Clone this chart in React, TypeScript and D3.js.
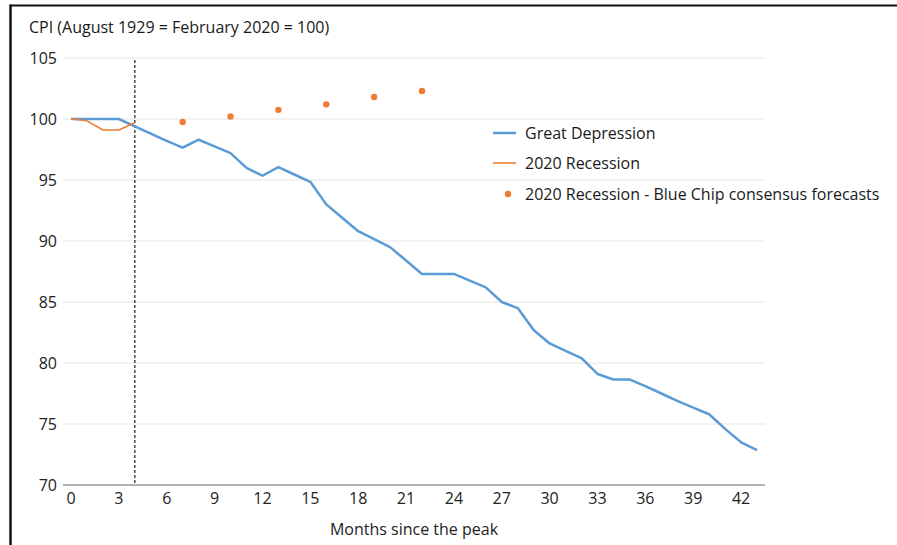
import React from "react";
import * as d3 from "d3";

const months = [0,1,2,3,4,5,6,7,8,9,10,11,12,13,14,15,16,17,18,19,20,21,22,23,24,25,26,27,28,29,30,31,32,33,34,35,36,37,38,39,40,41,42,43];
const greatDepression = [100,100,100,100,99.4,98.8,98.2,97.65,98.3,97.75,97.2,96.0,95.35,96.05,95.45,94.85,93.0,91.9,90.8,90.15,89.5,88.4,87.3,87.3,87.3,86.75,86.2,85.0,84.5,82.7,81.6,81.0,80.4,79.1,78.65,78.65,78.1,77.5,76.9,76.35,75.8,74.6,73.5,72.85];
const recessionMonths = [0,1,2,3,4];
const recession2020 = [100,99.85,99.1,99.1,99.7];
const forecastMonths = [7,10,13,16,19,22];
const forecastValues = [99.75,100.2,100.75,101.2,101.8,102.3];
const yTicks = [70,75,80,85,90,95,100,105];
const xTicks = [0,3,6,9,12,15,18,21,24,27,30,33,36,39,42];
const peakMonth = 4;

const title = "CPI (August 1929 = February 2020 = 100)";
const xTitle = "Months since the peak";
const legendLabels = ["Great Depression", "2020 Recession", "2020 Recession - Blue Chip consensus forecasts"];

const BLUE = "#5b9bd5";
const ORANGE = "#ed7d31";
const FONT = "'Open Sans', sans-serif";

export default function App() {
  const W = 897, H = 545;
  const x = d3.scalePoint<number>().domain(months).range([63, 765]).padding(0.5);
  const y = d3.scaleLinear().domain([70, 105]).range([485, 58]);
  const line = d3.line<[number, number]>().x(d => x(d[0])!).y(d => y(d[1]));
  const gdPath = line(months.map((m, i) => [m, greatDepression[i]]))!;
  const recPath = line(recessionMonths.map((m, i) => [m, recession2020[i]]))!;

  return (
    <div style={{ position: "fixed", left: 0, top: 0 }}>
      <svg width={W} height={H} style={{ display: "block", background: "#fff" }} fontFamily={FONT}>
        <rect x={0} y={0} width={W} height={H} fill="#fff" />
        {/* frame */}
        <line x1={10} x2={W} y1={5.5} y2={5.5} stroke="#111" strokeWidth={2} />
        <line x1={10.5} x2={10.5} y1={4.5} y2={H} stroke="#111" strokeWidth={2.5} />

        <text x={29} y={33} fontSize={16} fill="#1a1a1a">{title}</text>

        {/* gridlines */}
        {yTicks.filter(t => t !== 70).map(t => (
          <line key={t} x1={63} x2={765} y1={y(t)} y2={y(t)} stroke="#e6e6e6" strokeWidth={1} />
        ))}
        <line x1={63} x2={765} y1={y(70)} y2={y(70)} stroke="#999" strokeWidth={1.3} />

        {yTicks.map(t => (
          <text key={t} x={57} y={y(t)} dy="0.35em" textAnchor="end" fontSize={16} fill="#222">{t}</text>
        ))}
        {xTicks.map(t => (
          <text key={t} x={x(t)!} y={504} textAnchor="middle" fontSize={16} fill="#222">{t}</text>
        ))}
        <text x={414} y={535} textAnchor="middle" fontSize={16} fill="#222">{xTitle}</text>

        {/* peak marker */}
        <line x1={x(peakMonth)!} x2={x(peakMonth)!} y1={60} y2={y(70)} stroke="#555" strokeWidth={1.6} strokeDasharray="3,2" />

        <path d={gdPath} fill="none" stroke={BLUE} strokeWidth={2.5} strokeLinejoin="round" />
        <path d={recPath} fill="none" stroke={ORANGE} strokeWidth={1.6} strokeLinejoin="round" />
        {forecastMonths.map((m, i) => (
          <circle key={m} cx={x(m)!} cy={y(forecastValues[i])} r={3.2} fill={ORANGE} />
        ))}

        {/* legend */}
        <line x1={493} x2={516} y1={133} y2={133} stroke={BLUE} strokeWidth={2.5} />
        <text x={525} y={133} dy="0.35em" fontSize={16} fill="#1a1a1a">{legendLabels[0]}</text>
        <line x1={493} x2={516} y1={163} y2={163} stroke={ORANGE} strokeWidth={1.6} />
        <text x={525} y={163} dy="0.35em" fontSize={16} fill="#1a1a1a">{legendLabels[1]}</text>
        <circle cx={508} cy={194} r={3.2} fill={ORANGE} />
        <text x={525} y={194} dy="0.35em" fontSize={16} fill="#1a1a1a">{legendLabels[2]}</text>
      </svg>
    </div>
  );
}
